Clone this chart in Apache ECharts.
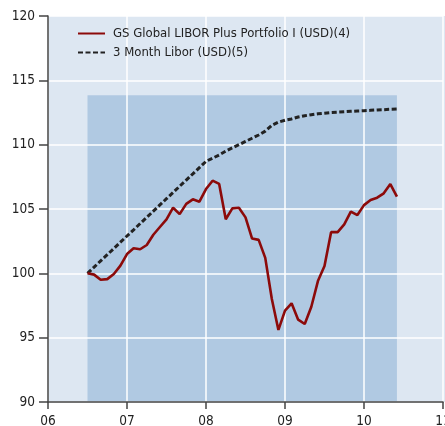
<!DOCTYPE html>
<html>
<head>
<meta charset="utf-8">
<script src="https://cdn.jsdelivr.net/npm/echarts@6/dist/echarts.min.js"></script>
<style>
html,body{margin:0;padding:0;background:#fff;}
#chart{width:445px;height:426px;}
</style>
</head>
<body>
<div id="chart"></div>
<script>
const months = ['2006-07','2006-08','2006-09','2006-10','2006-11','2006-12',
  '2007-01','2007-02','2007-03','2007-04','2007-05','2007-06','2007-07','2007-08','2007-09','2007-10','2007-11','2007-12',
  '2008-01','2008-02','2008-03','2008-04','2008-05','2008-06','2008-07','2008-08','2008-09','2008-10','2008-11','2008-12',
  '2009-01','2009-02','2009-03','2009-04','2009-05','2009-06','2009-07','2009-08','2009-09','2009-10','2009-11','2009-12',
  '2010-01','2010-02','2010-03','2010-04','2010-05','2010-06'];
const portfolio = [100.0, 99.9, 99.5, 99.55, 99.95, 100.6, 101.5, 101.95, 101.87, 102.2, 103.0, 103.6,
  104.2, 105.1, 104.6, 105.4, 105.75, 105.57, 106.55, 107.2, 106.95, 104.2, 105.05, 105.1,
  104.35, 102.7, 102.6, 101.2, 98.0, 95.6, 97.1, 97.67, 96.4, 96.06, 97.4, 99.4,
  100.57, 103.2, 103.2, 103.8, 104.8, 104.53, 105.3, 105.7, 105.88, 106.22, 106.94, 105.96];
const libor = [100.0, 100.48, 100.97, 101.45, 101.93, 102.42, 102.9, 103.38, 103.87, 104.35, 104.83, 105.32,
  105.8, 106.28, 106.77, 107.25, 107.73, 108.22, 108.7, 108.95, 109.2, 109.5, 109.75, 110.0,
  110.25, 110.5, 110.75, 111.05, 111.5, 111.75, 111.9, 112.0, 112.15, 112.25, 112.33, 112.4,
  112.45, 112.5, 112.53, 112.56, 112.59, 112.62, 112.64, 112.67, 112.7, 112.72, 112.75, 112.77];
const seriesNames = ['GS Global LIBOR Plus Portfolio I (USD)(4)', '3 Month Libor (USD)(5)'];
const yTicks = [90, 95, 100, 105, 110, 115, 120];
const xTickLabels = ['06','07','08','09','10','11'];
const shadeStart = '2006-07', shadeEnd = '2010-06', shadeTop = 113.85;

function toYear(m) { const [y, mo] = m.split('-').map(Number); return (y - 2000) + (mo - 1) / 12; }
const xs = months.map(toYear);

const FONT = '"Liberation Sans Narrow", "DejaVu Sans Condensed", Arial, sans-serif';
const chart = echarts.init(document.getElementById('chart'), null, {renderer: 'canvas'});
chart.setOption({
  animation: false,
  graphic: [{type: 'rect', z: -10, silent: true, shape: {x: 48, y: 16, width: 397, height: 386}, style: {fill: '#dde7f2'}}],
  grid: {left: 48, right: 2, top: 16, bottom: 24, containLabel: false, outerBoundsMode: 'none'},
  legend: {
    left: 77, top: 24, orient: 'vertical', padding: 0, itemGap: 0,
    itemWidth: 27, itemHeight: 19,
    itemStyle: {opacity: 0, borderWidth: 0},
    textStyle: {fontFamily: FONT, fontSize: 13, color: '#222', padding: [0, 0, 0, 3], lineHeight: 19},
    data: seriesNames
  },
  xAxis: {
    type: 'value', min: 6, max: 11, interval: 1, z: 1,
    axisLine: {show: true, lineStyle: {color: '#444', width: 1.5}},
    axisTick: {show: true, length: 7, lineStyle: {color: '#444', width: 1.5}},
    axisLabel: {margin: 12, fontFamily: FONT, fontSize: 13.5, color: '#222',
      formatter: v => xTickLabels[Math.round(v - 6)]},
    splitLine: {show: true, lineStyle: {color: '#ffffff', width: 1.5}}
  },
  yAxis: {
    type: 'value', min: 90, max: 120, interval: 5, z: 1,
    axisLine: {show: true, lineStyle: {color: '#444', width: 1.5}},
    axisTick: {show: true, length: 9, lineStyle: {color: '#444', width: 1.5}},
    axisLabel: {margin: 13, fontFamily: FONT, fontSize: 13.5, color: '#222',
      formatter: v => yTicks.includes(v) ? String(v) : ''},
    splitLine: {show: true, lineStyle: {color: '#ffffff', width: 1.5}}
  },
  series: [
    {
      name: 'shade', type: 'line', z: 0, data: [], silent: true,
      markArea: {silent: true, z: 0, itemStyle: {color: '#b0c9e2'},
        data: [[{coord: [toYear(shadeStart), 90]}, {coord: [toYear(shadeEnd), shadeTop]}]]}
    },
    {
      name: seriesNames[1], type: 'line', z: 3, symbol: 'none',
      data: xs.map((x, i) => [x, libor[i]]),
      lineStyle: {color: '#222', width: 3, type: [5, 2.5]}, itemStyle: {color: '#222'}
    },
    {
      name: seriesNames[0], type: 'line', z: 4, symbol: 'none',
      data: xs.map((x, i) => [x, portfolio[i]]),
      lineStyle: {color: '#8c0a0a', width: 2.6}, itemStyle: {color: '#8c0a0a'}
    }
  ]
});
</script>
</body>
</html>
